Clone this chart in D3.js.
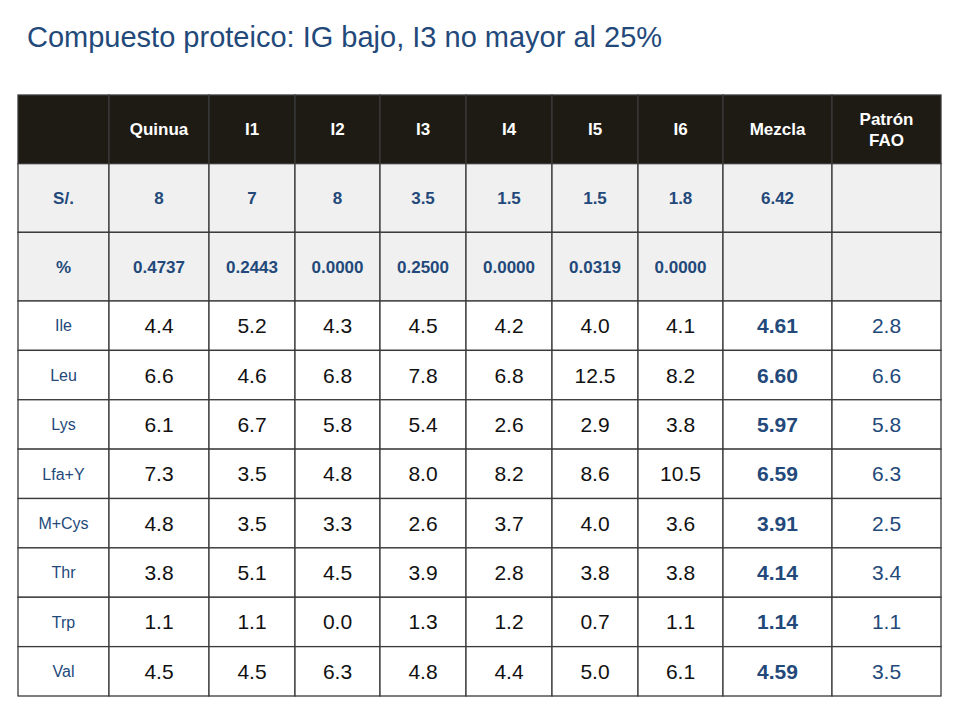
<!DOCTYPE html>
<html lang="es">
<head>
<meta charset="UTF-8">
<title>Compuesto proteico</title>
<style>
  body{margin:0;background:#fff;}
  svg{display:block;font-family:Arial,"Liberation Sans",sans-serif;}
</style>
<script src="https://cdn.jsdelivr.net/npm/d3@7"></script>
</head>
<body>
<div id="draw"></div>
<script>
var columns = ["Quinua","I1","I2","I3","I4","I5","I6","Mezcla","Patrón FAO"];
var costs = ["8","7","8","3.5","1.5","1.5","1.8","6.42",""];
var shares = ["0.4737","0.2443","0.0000","0.2500","0.0000","0.0319","0.0000","",""];
var aminoacids = ["Ile","Leu","Lys","Lfa+Y","M+Cys","Thr","Trp","Val"];
var values = [
  ["4.4","5.2","4.3","4.5","4.2","4.0","4.1","4.61","2.8"],
  ["6.6","4.6","6.8","7.8","6.8","12.5","8.2","6.60","6.6"],
  ["6.1","6.7","5.8","5.4","2.6","2.9","3.8","5.97","5.8"],
  ["7.3","3.5","4.8","8.0","8.2","8.6","10.5","6.59","6.3"],
  ["4.8","3.5","3.3","2.6","3.7","4.0","3.6","3.91","2.5"],
  ["3.8","5.1","4.5","3.9","2.8","3.8","3.8","4.14","3.4"],
  ["1.1","1.1","0.0","1.3","1.2","0.7","1.1","1.14","1.1"],
  ["4.5","4.5","6.3","4.8","4.4","5.0","6.1","4.59","3.5"]
];

var W = 960, H = 720;
var blue = "#23497a", dark = "#1e1b15", light = "#f0f0f0";
var edges = [18,109,209,295,380,466,552,638,723,832,941];
var x = d3.scaleOrdinal().domain(["", ...columns]).range(edges.slice(0, -1));
function cw(k){ var i = x.domain().indexOf(k); return edges[i+1] - edges[i]; }
var yTop = d3.scaleBand().domain(["head","S/.","%"]).range([95,301]);
var y = d3.scaleBand().domain(aminoacids).range([301,696]);

var svg = d3.select("#draw").append("svg").attr("width", W).attr("height", H);

svg.append("text").attr("x", 27).attr("y", 47)
  .attr("fill", blue).attr("font-size", 29)
  .text("Compuesto proteico: IG bajo, I3 no mayor al 25%");

var keys = x.domain();
var rows = [];
rows.push({y: yTop("head"), h: yTop.bandwidth(), fill: dark, cells: keys.map(function(k){ return {k:k, t:k, kind:"head"}; })});
rows.push({y: yTop("S/."), h: yTop.bandwidth(), fill: light, cells: ["S/."].concat(costs).map(function(t,i){ return {k:keys[i], t:t, kind:"top"}; })});
rows.push({y: yTop("%"), h: yTop.bandwidth(), fill: light, cells: ["%"].concat(shares).map(function(t,i){ return {k:keys[i], t:t, kind:"top"}; })});
aminoacids.forEach(function(a, r){
  rows.push({y: y(a), h: y.bandwidth(), fill: "#fff", cells: [a].concat(values[r]).map(function(t,i){
    return {k:keys[i], t:t, kind: i===0 ? "label" : (keys[i]==="Mezcla" ? "mix" : (keys[i]==="Patrón FAO" ? "fao" : "val"))};
  })});
});

var g = svg.selectAll("g.row").data(rows).enter().append("g").attr("class","row");
g.each(function(row){
  var sel = d3.select(this).selectAll("g").data(row.cells).enter().append("g")
    .attr("transform", function(c){ return "translate(" + x(c.k) + "," + row.y + ")"; });
  sel.append("rect").attr("width", function(c){ return cw(c.k); }).attr("height", row.h)
    .attr("fill", row.fill).attr("stroke", "#3a3a3a").attr("stroke-width", 1.3);
  sel.each(function(c){
    var t = d3.select(this).append("text").attr("text-anchor","middle")
      .attr("x", cw(c.k)/2);
    var cy = row.h/2;
    if (c.kind === "head") {
      t.attr("fill","#fff").attr("font-weight","bold").attr("font-size",17);
      if (c.t === "Patrón FAO") {
        t.append("tspan").attr("x", cw(c.k)/2).attr("y", cy - 4).text("Patrón");
        t.append("tspan").attr("x", cw(c.k)/2).attr("y", cy + 17).text("FAO");
        return;
      }
    } else if (c.kind === "top") {
      t.attr("fill", blue).attr("font-weight","bold").attr("font-size",17);
    } else if (c.kind === "label") {
      t.attr("fill", blue).attr("font-size",16);
    } else if (c.kind === "mix") {
      t.attr("fill", blue).attr("font-weight","bold").attr("font-size",21);
    } else if (c.kind === "fao") {
      t.attr("fill", blue).attr("font-size",21);
    } else {
      t.attr("fill", "#111").attr("font-size",21);
    }
    t.attr("y", cy).attr("dy","0.36em").text(c.t);
  });
});
</script>
</body>
</html>
